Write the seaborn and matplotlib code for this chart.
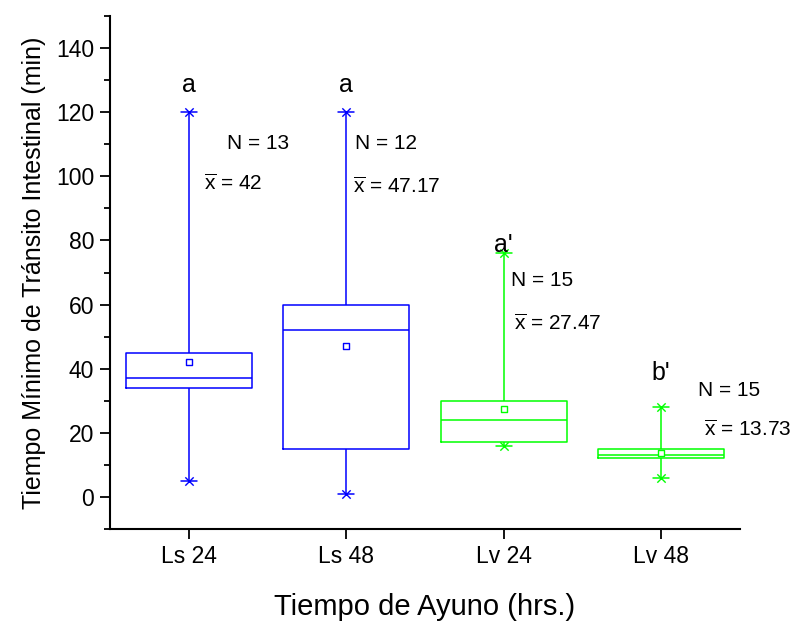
import matplotlib
matplotlib.use("Agg")
import matplotlib.pyplot as plt
from matplotlib.ticker import MultipleLocator
import seaborn as sns
import pandas as pd

# ---- data ----
categories = ["Ls 24", "Ls 48", "Lv 24", "Lv 48"]
mins    = [5, 1, 16, 6]
q1s     = [34, 15, 17, 12]
medians = [37, 52, 24, 13]
q3s     = [45, 60, 30, 15]
maxs    = [120, 120, 76, 28]
means   = [42, 47.17, 27.47, 13.73]
ns      = [13, 12, 15, 15]
letters = ["a", "a", "a'", "b'"]
colors  = ["#0000FF", "#0000FF", "#00FF00", "#00FF00"]

# ---- layout of annotations (offset in category units, y in data units) ----
letter_y = [128.5, 128.5, 78.6, 38.8]
n_pos    = [(0.24, 110.3), (0.057, 110.3), (0.045, 67.6), (0.235, 33.3)]
m_pos    = [(0.10, 97.8), (0.045, 96.8), (0.065, 54.0), (0.27, 21.0)]

sns.set_style("ticks")
plt.rcParams["font.family"] = ["Liberation Sans", "DejaVu Sans"]
plt.rcParams["mathtext.fontset"] = "custom"
plt.rcParams["mathtext.rm"] = "Liberation Sans"
plt.rcParams["mathtext.it"] = "Liberation Sans:italic"
plt.rcParams["mathtext.bf"] = "Liberation Sans:bold"
for k in ("text.color", "axes.labelcolor", "xtick.color", "ytick.color", "axes.edgecolor"):
    plt.rcParams[k] = "black"

# five-number summaries as long table (quantiles of 5 sorted points reproduce them exactly)
rows = []
for c, a, b, m, d, e in zip(categories, mins, q1s, medians, q3s, maxs):
    for v in (a, b, m, d, e):
        rows.append({"grupo": c, "valor": v})
df = pd.DataFrame(rows)
pal = dict(zip(categories, colors))

fig = plt.figure(figsize=(7.92, 6.24), dpi=100)
ax = fig.add_axes([110 / 792, 1 - 529 / 624, 630 / 792, 513 / 624])

sns.boxplot(data=df, x="grupo", y="valor", hue="grupo", palette=pal, order=categories,
            hue_order=categories, fill=False, whis=(0, 100), width=0.8, linewidth=1.1,
            capwidths=0.1, legend=False, ax=ax)

n0 = len(ax.collections)
sns.stripplot(x=categories, y=maxs, hue=categories, palette=pal, order=categories,
              hue_order=categories, marker="x", size=6, jitter=False, linewidth=1,
              legend=False, ax=ax)
sns.stripplot(x=categories, y=mins, hue=categories, palette=pal, order=categories,
              hue_order=categories, marker="x", size=6, jitter=False, linewidth=1,
              legend=False, ax=ax)
n1 = len(ax.collections)
sns.stripplot(x=categories, y=means, hue=categories, palette=pal, order=categories,
              hue_order=categories, marker="s", size=4.3, jitter=False, linewidth=1,
              legend=False, ax=ax)
n2 = len(ax.collections)
for coll in ax.collections[n0:n1]:
    fc = coll.get_facecolors()
    coll.set_edgecolors(fc)
    coll.set_linewidths(1.0)
for coll in ax.collections[n1:n2]:
    fc = coll.get_facecolors()
    coll.set_edgecolors(fc)
    coll.set_facecolors("white")
    coll.set_linewidths(1.0)

# annotations
for i, c in enumerate(categories):
    ax.text(i, letter_y[i], letters[i], ha="center", va="center", fontsize=18)
    ax.text(i + n_pos[i][0], n_pos[i][1], f"N = {ns[i]}", ha="left", va="center", fontsize=15)
    mtxt = f"{means[i]:g}"
    ax.text(i + m_pos[i][0], m_pos[i][1], r"$\overline{\mathrm{x}}$" + f" = {mtxt}",
            ha="left", va="center", fontsize=15)

ax.set_xlim(-0.5, 3.5)
ax.set_ylim(-10, 150)
ax.yaxis.set_major_locator(MultipleLocator(20))
ax.yaxis.set_minor_locator(MultipleLocator(10))
ax.set_yticks(range(0, 141, 20))
ax.set_xlabel("Tiempo de Ayuno (hrs.)", fontsize=21, labelpad=18)
ax.set_ylabel("Tiempo Mínimo de Tránsito Intestinal (min)", fontsize=18, labelpad=7)
ax.tick_params(axis="both", which="major", direction="out", length=7.5, width=1.3,
               labelsize=16.5, pad=4, color="black", labelcolor="black")
ax.tick_params(axis="y", which="minor", direction="out", length=4, width=1.3, color="black")
sns.despine(ax=ax)
for s in ("left", "bottom"):
    ax.spines[s].set_linewidth(1.5)
    ax.spines[s].set_color("black")

fig.savefig("out.png", dpi=100)
